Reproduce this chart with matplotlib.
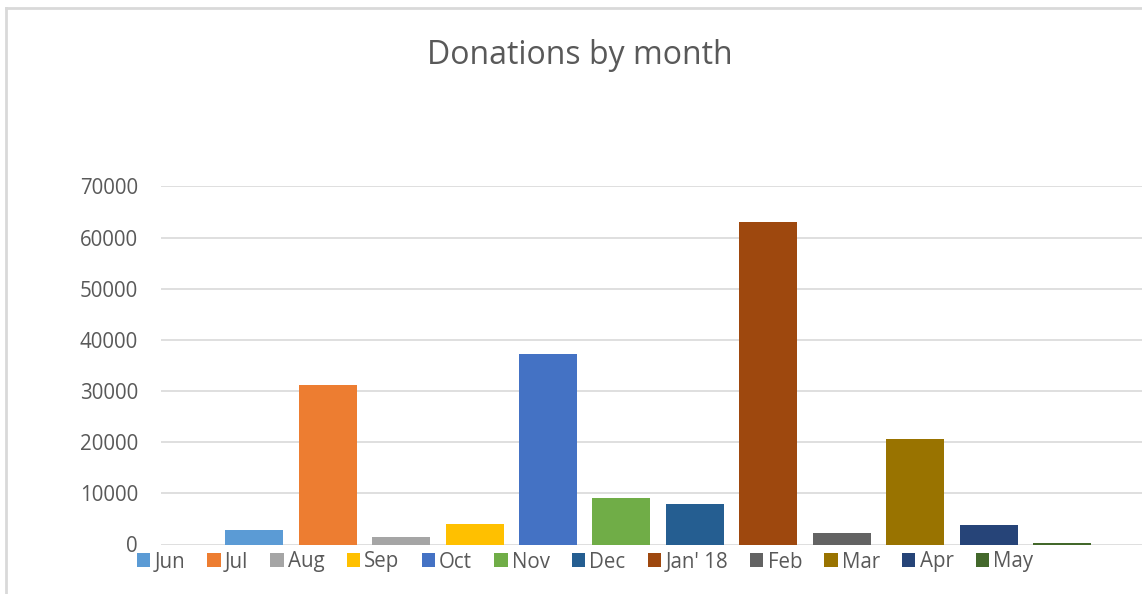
import matplotlib
matplotlib.use("Agg")
import matplotlib.pyplot as plt
from matplotlib.lines import Line2D
from matplotlib.patches import Patch

months = ["Jun", "Jul", "Aug", "Sep", "Oct", "Nov", "Dec", "Jan' 18", "Feb", "Mar", "Apr", "May"]
donations = [2800, 31200, 1500, 4000, 37300, 9000, 8000, 63000, 2300, 20600, 3800, 300]
colors = ["#5B9BD5", "#ED7D31", "#A5A5A5", "#FFC000", "#4472C4", "#70AD47",
          "#255E91", "#9E480E", "#636363", "#997300", "#264478", "#43682B"]
y_ticks = [0, 10000, 20000, 30000, 40000, 50000, 60000, 70000]

TEXT = "#595959"
GRID = "#D9D9D9"


def main():
    plt.rcParams["font.family"] = ["Open Sans", "DejaVu Sans"]

    W, H = 1142, 594
    fig = plt.figure(figsize=(W / 100, H / 100), dpi=100)

    # plot area in pixels: x 161..1142, y 186.5..544.5
    ax = fig.add_axes([161 / W, 1 - 544.5 / H, (W - 161) / W, (544.5 - 186.5) / H])

    x = list(range(len(months)))
    ax.bar(x, donations, width=0.79, color=colors, zorder=3)

    ax.set_ylim(0, 70000)
    ax.set_xlim(-1.27, 12.09)
    ax.set_yticks(y_ticks)
    ax.set_yticklabels([str(v) for v in y_ticks])
    ax.set_xticks([])
    ax.tick_params(axis="y", length=0, pad=16.5, labelsize=14.8, labelcolor=TEXT)
    for s in ax.spines.values():
        s.set_visible(False)
    ax.grid(axis="y", color=GRID, linewidth=1.2, zorder=0)
    ax.set_axisbelow(True)

    fig.text(580 / W, 1 - 55 / H, "Donations by month", ha="center", va="center",
             fontsize=23, color=TEXT)

    # red heading, mostly cut off by the top edge as in the screenshot
    fig.text(605 / W, 1 - (-8) / H, "FINAL", ha="center", va="center",
             fontsize=22, color="#FF0000", fontweight="bold")

    # chart area border (top and left only, rest cropped)
    fig.add_artist(Line2D([6 / W, 1], [1 - 7.5 / H, 1 - 7.5 / H], color=GRID, linewidth=2))
    fig.add_artist(Line2D([6 / W, 6 / W], [0, 1 - 7.5 / H], color=GRID, linewidth=2))

    handles = [Patch(facecolor=c, edgecolor="none") for c in colors]
    fig.legend(handles, months, loc="center", bbox_to_anchor=(585 / W, 1 - 562 / H),
               ncol=12, frameon=False, fontsize=14.8, labelcolor=TEXT,
               handlelength=0.65, handleheight=0.65, handletextpad=0.2,
               columnspacing=1.08, borderpad=0, borderaxespad=0)

    fig.savefig("out.png", dpi=100)


if __name__ == "__main__":
    main()
